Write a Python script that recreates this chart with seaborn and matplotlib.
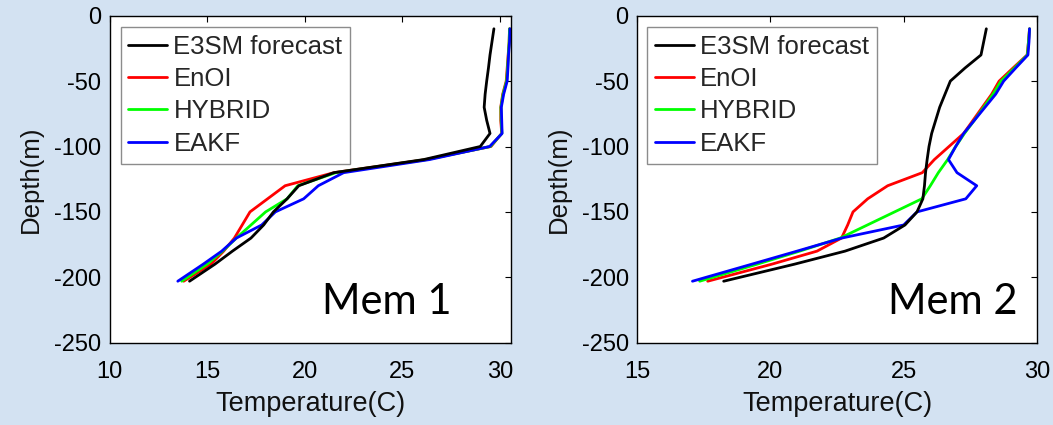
import numpy as np
import pandas as pd
import matplotlib
matplotlib.use("Agg")
import matplotlib.pyplot as plt
import seaborn as sns

sns.set_theme(style="white")
plt.rcParams['font.family'] = ['Liberation Sans', 'DejaVu Sans']
plt.rcParams['axes.unicode_minus'] = False

depth = [-10, -20, -30, -40, -50, -60, -70, -80, -90, -100,
         -110, -120, -130, -140, -150, -160, -170, -180, -190, -203]

series_names = ["E3SM forecast", "EnOI", "HYBRID", "EAKF"]
series_colors = ["#000000", "#ff0000", "#00ff00", "#0000ff"]

# Mem 1
m1_e3sm = [29.7, 29.6, 29.5, 29.42, 29.33, 29.25, 29.2, 29.33, 29.5, 29.0,
           26.1, 21.5, 19.7, 19.1, 18.4, 17.9, 17.25, 16.3, 15.4, 14.1]
m1_enoi = [30.5, 30.48, 30.43, 30.38, 30.33, 30.15, 30.05, 30.05, 30.1, 29.55,
           26.2, 21.5, 19.0, 18.1, 17.2, 16.8, 16.4, 15.85, 15.2, 13.8]
m1_hybrid = [30.5, 30.48, 30.44, 30.4, 30.35, 30.17, 30.06, 30.07, 30.11, 29.52,
             26.25, 21.6, 19.65, 19.1, 18.0, 17.25, 16.5, 15.8, 15.0, 13.7]
m1_eakf = [30.52, 30.5, 30.45, 30.42, 30.38, 30.2, 30.08, 30.1, 30.12, 29.48,
           26.4, 22.0, 20.7, 19.95, 18.5, 17.8, 16.5, 15.75, 14.8, 13.5]

# Mem 2
m2_e3sm = [28.1, 28.0, 27.9, 27.3, 26.75, 26.55, 26.35, 26.2, 26.05, 25.95,
           25.88, 25.82, 25.78, 25.72, 25.5, 25.05, 24.25, 22.8, 20.9, 18.25]
m2_enoi = [29.72, 29.68, 29.63, 29.1, 28.58, 28.3, 27.95, 27.6, 27.25, 26.7,
           26.15, 25.7, 24.4, 23.65, 23.1, 22.9, 22.67, 21.75, 20.05, 17.65]
m2_hybrid = [29.72, 29.68, 29.64, 29.15, 28.65, 28.35, 28.0, 27.65, 27.28, 26.95,
             26.65, 26.3, 26.0, 25.68, 24.66, 23.64, 22.62, 21.1, 19.5, 17.35]
m2_eakf = [29.72, 29.7, 29.66, 29.2, 28.75, 28.45, 28.05, 27.65, 27.25, 26.95,
           26.68, 27.0, 27.74, 27.33, 25.5, 25.0, 22.68, 21.0, 19.3, 17.08]

panels = [
    ("Mem 1", [m1_e3sm, m1_enoi, m1_hybrid, m1_eakf], (10, 30.55), [10, 15, 20, 25, 30]),
    ("Mem 2", [m2_e3sm, m2_enoi, m2_hybrid, m2_eakf], (15, 30), [15, 20, 25, 30]),
]
yticks = [0, -50, -100, -150, -200, -250]

W, H = 1053, 425
bg = "#d3e2f2"
fig = plt.figure(figsize=(W / 100, H / 100), dpi=100, facecolor=bg)

axes_px = [(109.5, 15.7, 401, 327), (637, 15.7, 400, 327)]
legend_anchor = [(0.028, 0.966), (0.026, 0.966)]
mem_pos = [(0.529, 0.087), (0.628, 0.087)]

draw_order = [1, 2, 3, 0]

for i, (title, vals, xlim, xticks) in enumerate(panels):
    l, t, w, h = axes_px[i]
    ax = fig.add_axes([l / W, 1 - (t + h) / H, w / W, h / H])
    ax.set_facecolor("white")
    handles = {}
    for k in draw_order:
        df = pd.DataFrame({"temp": vals[k], "depth": depth})
        sns.lineplot(data=df, x="temp", y="depth", sort=False, estimator=None,
                     orient="y", color=series_colors[k], linewidth=2.0, ax=ax,
                     zorder=3 if k == 0 else 2)
        handles[k] = ax.lines[-1]
    ax.set_xlim(*xlim)
    ax.set_ylim(-250, 0)
    ax.set_xticks(xticks)
    ax.set_yticks(yticks)
    ax.tick_params(direction="in", length=4, width=0.8, top=True, right=True,
                   labelsize=17, colors="black")
    ax.tick_params(axis="x", pad=13)
    ax.tick_params(axis="y", pad=6)
    for s in ax.spines.values():
        s.set_color("black")
        s.set_linewidth(1.0)
    ax.set_xlabel("Temperature(C)", fontsize=19.5, labelpad=6, color="#111111")
    ax.set_ylabel("Depth(m)", fontsize=18.5, labelpad=8, color="#111111")
    leg = ax.legend([handles[k] for k in range(4)], series_names,
                    loc="upper left", bbox_to_anchor=legend_anchor[i],
                    borderaxespad=0, fontsize=18.5, frameon=True, fancybox=False,
                    handlelength=1.5, handletextpad=0.25, labelspacing=0.33,
                    borderpad=0.3)
    leg.get_frame().set_edgecolor("#707070")
    leg.get_frame().set_linewidth(1.0)
    for ln in leg.get_lines():
        ln.set_linewidth(2.0)
    ax.text(mem_pos[i][0], mem_pos[i][1], title, transform=ax.transAxes,
            fontsize=30, family=["Lato", "DejaVu Sans"], color="black",
            ha="left", va="baseline")

fig.savefig("out.png", dpi=100, facecolor=bg)
